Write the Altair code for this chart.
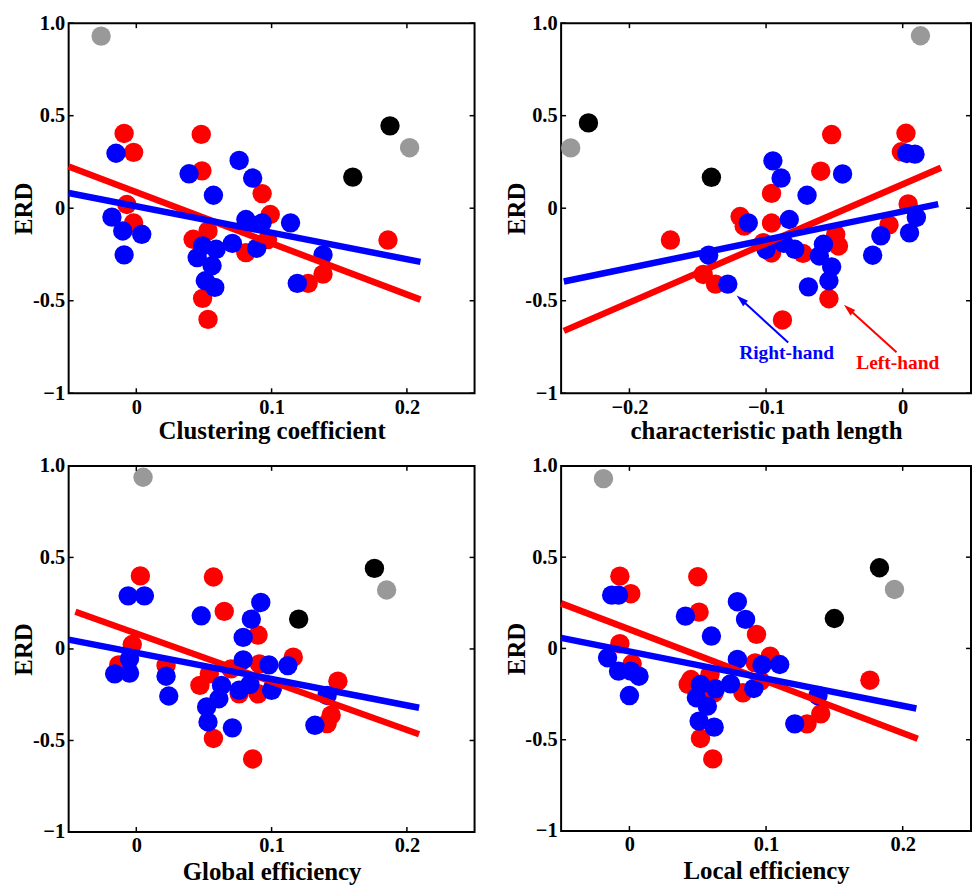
import altair as alt
import pandas as pd

# ---------------- data ----------------
# Panel 1: Clustering coefficient
P1_RED_X = [-0.009, -0.002, 0.048, 0.0485, 0.093, 0.099, -0.007, -0.002, 0.042, 0.053, 0.081, 0.097, 0.186, 0.127, 0.138, 0.049, 0.053]
P1_RED_Y = [0.404, 0.302, 0.399, 0.202, 0.079, -0.034, 0.02, -0.079, -0.168, -0.123, -0.24, -0.17, -0.172, -0.406, -0.356, -0.487, -0.601]
P1_BLUE_X = [-0.015, 0.039, 0.076, 0.086, 0.057, -0.018, -0.01, 0.004, -0.009, 0.081, 0.093, 0.114, 0.071, 0.049, 0.059, 0.045, 0.056, 0.051, 0.058, 0.089, 0.138, 0.119]
P1_BLUE_Y = [0.297, 0.186, 0.258, 0.163, 0.07, -0.048, -0.123, -0.141, -0.252, -0.061, -0.079, -0.079, -0.19, -0.204, -0.222, -0.267, -0.311, -0.392, -0.428, -0.216, -0.252, -0.406]
P1_GRAY_X = [-0.026, 0.202]
P1_GRAY_Y = [0.93, 0.327]
P1_BLACK_X = [0.1875, 0.16]
P1_BLACK_Y = [0.445, 0.168]
P1_RED_FIT_X = [-0.05, 0.21]
P1_RED_FIT_Y = [0.225, -0.494]
P1_BLUE_FIT_X = [-0.05, 0.21]
P1_BLUE_FIT_Y = [0.082, -0.29]

# Panel 2: characteristic path length
P2_RED_X = [-0.052, 0.0024, -0.001, -0.06, -0.096, 0.004, -0.119, -0.116, -0.096, -0.01, -0.17, -0.102, -0.096, -0.073, -0.049, -0.047, -0.146, -0.137, -0.054, -0.088]
P2_RED_Y = [0.398, 0.405, 0.305, 0.2, 0.08, 0.023, -0.045, -0.097, -0.08, -0.09, -0.172, -0.186, -0.242, -0.244, -0.142, -0.204, -0.358, -0.41, -0.489, -0.604]
P2_BLUE_X = [0.003, 0.009, -0.095, -0.089, -0.044, -0.07, -0.113, -0.083, 0.01, -0.016, 0.005, -0.022, -0.1, -0.087, -0.079, -0.058, -0.061, -0.052, -0.054, -0.069, -0.142, -0.128]
P2_BLUE_Y = [0.296, 0.292, 0.256, 0.163, 0.185, 0.07, -0.079, -0.061, -0.05, -0.149, -0.133, -0.254, -0.222, -0.19, -0.222, -0.195, -0.258, -0.317, -0.392, -0.425, -0.254, -0.41]
P2_GRAY_X = [0.013, -0.243]
P2_GRAY_Y = [0.932, 0.326]
P2_BLACK_X = [-0.23, -0.14]
P2_BLACK_Y = [0.461, 0.167]
P2_RED_FIT_X = [-0.248, 0.028]
P2_RED_FIT_Y = [-0.663, 0.219]
P2_BLUE_FIT_X = [-0.248, 0.026]
P2_BLUE_FIT_Y = [-0.396, 0.022]

# Panel 3: Global efficiency
P3_RED_X = [0.003, 0.057, 0.065, 0.09, -0.003, -0.013, 0.022, 0.116, 0.149, 0.047, 0.054, 0.07, 0.076, 0.09, 0.091, 0.101, 0.144, 0.141, 0.057, 0.086]
P3_RED_Y = [0.399, 0.393, 0.205, 0.076, 0.024, -0.087, -0.09, -0.045, -0.176, -0.199, -0.136, -0.109, -0.245, -0.245, -0.082, -0.208, -0.362, -0.408, -0.489, -0.601]
P3_BLUE_X = [-0.006, 0.006, 0.048, 0.092, 0.085, 0.079, -0.005, -0.016, -0.005, 0.022, 0.024, 0.079, 0.098, 0.112, 0.063, 0.076, 0.084, 0.1, 0.061, 0.052, 0.053, 0.071, 0.141, 0.132]
P3_BLUE_Y = [0.29, 0.29, 0.181, 0.254, 0.163, 0.063, -0.054, -0.136, -0.132, -0.149, -0.257, -0.06, -0.087, -0.091, -0.199, -0.226, -0.194, -0.226, -0.272, -0.317, -0.399, -0.431, -0.254, -0.417]
P3_GRAY_X = [0.005, 0.185]
P3_GRAY_Y = [0.938, 0.322]
P3_BLACK_X = [0.176, 0.12]
P3_BLACK_Y = [0.44, 0.163]
P3_RED_FIT_X = [-0.045, 0.209]
P3_RED_FIT_Y = [0.203, -0.466]
P3_BLUE_FIT_X = [-0.05, 0.209]
P3_BLUE_FIT_Y = [0.051, -0.321]

# Panel 4: Local efficiency
P4_RED_X = [-0.007, 0.001, 0.05, 0.051, 0.093, -0.007, 0.002, 0.103, 0.176, 0.045, 0.043, 0.059, 0.062, 0.083, 0.092, 0.096, 0.13, 0.14, 0.052, 0.061]
P4_RED_Y = [0.396, 0.3, 0.393, 0.199, 0.077, 0.026, -0.084, -0.042, -0.174, -0.17, -0.197, -0.142, -0.243, -0.243, -0.079, -0.179, -0.413, -0.358, -0.493, -0.605]
P4_BLUE_X = [-0.013, -0.008, 0.041, 0.079, 0.085, 0.06, -0.016, -0.008, 0.001, 0.007, 0.0, 0.079, 0.097, 0.11, 0.052, 0.063, 0.074, 0.091, 0.049, 0.057, 0.051, 0.062, 0.138, 0.121]
P4_BLUE_Y = [0.292, 0.292, 0.177, 0.256, 0.159, 0.068, -0.051, -0.124, -0.124, -0.152, -0.258, -0.06, -0.091, -0.088, -0.197, -0.221, -0.194, -0.219, -0.27, -0.316, -0.398, -0.431, -0.258, -0.413]
P4_GRAY_X = [-0.019, 0.194]
P4_GRAY_Y = [0.93, 0.323]
P4_BLACK_X = [0.183, 0.15]
P4_BLACK_Y = [0.442, 0.164]
P4_RED_FIT_X = [-0.05, 0.211]
P4_RED_FIT_Y = [0.247, -0.495]
P4_BLUE_FIT_X = [-0.05, 0.21]
P4_BLUE_FIT_Y = [0.058, -0.329]

# Annotations in panel 2
ANNOT_TEXT = ["Right-hand", "Left-hand"]
ANNOT_X = [-0.085, -0.0036]
ANNOT_Y = [-0.78, -0.839]
ARROW_X0 = [-0.0838, -0.0045]
ARROW_Y0 = [-0.726, -0.778]
ARROW_X1 = [-0.118, -0.0395]
ARROW_Y1 = [-0.495, -0.545]

# Axes
X_TICKS_POS = [0, 0.1, 0.2]
X_LABELS_POS = ["0", "0.1", "0.2"]
X_TICKS_NEG = [-0.2, -0.1, 0]
X_LABELS_NEG = ["\u22120.2", "\u22120.1", "0"]
Y_TICKS = [-1, -0.5, 0, 0.5, 1]
Y_LABELS = ["\u22121", "-0.5", "0", "0.5", "1.0"]

RED = "#ff0000"
BLUE = "#0000ff"
GRAY = "#999999"
BLACK = "#000000"
FONT = "Liberation Serif"
ARROW_HEAD = "M0,-1 L0.55,0.85 L-0.55,0.85 Z"


def label_expr(ticks, labels):
    expr = "''"
    for t, l in zip(ticks, labels):
        expr = f"abs(datum.value - ({t})) < 1e-9 ? '{l}' : " + expr
    return expr


def panel(rx, ry, bx, by, gx, gy, kx, ky, rfx, rfy, bfx, bfy,
          xdom, xticks, xlabels, xtitle, W, H, tpad, annot=False):
    xs = alt.Scale(domain=xdom, nice=False, zero=False)
    ys = alt.Scale(domain=[-1, 1], nice=False, zero=False)
    xax = alt.Axis(values=xticks, labelExpr=label_expr(xticks, xlabels),
                   labelPadding=4, titlePadding=tpad, labelFlush=False, labelOverlap=False)
    yax = alt.Axis(values=Y_TICKS, labelExpr=label_expr(Y_TICKS, Y_LABELS),
                   labelPadding=4, titleX=-32, titleY=H / 2, labelOverlap=False, labelFlush=False)
    X = alt.X("x:Q", scale=xs, axis=xax, title=xtitle)
    Yc = alt.Y("y:Q", scale=ys, axis=yax, title="ERD")

    def pts(xv, yv, color):
        return alt.Chart(pd.DataFrame({"x": xv, "y": yv})).mark_circle(
            size=380, opacity=1, color=color).encode(x=X, y=Yc)

    def fit(xv, yv, color):
        return alt.Chart(pd.DataFrame({"x": xv, "y": yv})).mark_line(
            color=color, strokeWidth=6.5, strokeCap="butt").encode(x=X, y=Yc)

    xt = pd.DataFrame({"x": xticks})
    yt = pd.DataFrame({"y": Y_TICKS})
    ticks = [
        alt.Chart(xt).mark_rule(color="black", strokeWidth=1.5).encode(
            x=X, y=alt.value(H), y2=alt.value(H - 5)),
        alt.Chart(xt).mark_rule(color="black", strokeWidth=1.5).encode(
            x=X, y=alt.value(0), y2=alt.value(5)),
        alt.Chart(yt).mark_rule(color="black", strokeWidth=1.5).encode(
            y=Yc, x=alt.value(0), x2=alt.value(5)),
        alt.Chart(yt).mark_rule(color="black", strokeWidth=1.5).encode(
            y=Yc, x=alt.value(W), x2=alt.value(W - 5)),
    ]
    layers = [pts(rx, ry, RED), pts(bx, by, BLUE), pts(gx, gy, GRAY), pts(kx, ky, BLACK),
              fit(rfx, rfy, RED), fit(bfx, bfy, BLUE)] + ticks

    if annot:
        arrows = pd.DataFrame({"x": ARROW_X0, "y": ARROW_Y0, "x2": ARROW_X1, "y2": ARROW_Y1,
                               "c": [BLUE, RED]})
        layers.append(alt.Chart(arrows).mark_rule(strokeWidth=2).encode(
            x=X, y=Yc, x2="x2:Q", y2="y2:Q", color=alt.Color("c:N", scale=None)))
        heads = pd.DataFrame({"x": ARROW_X1, "y": ARROW_Y1, "c": [BLUE, RED]})
        layers.append(alt.Chart(heads).mark_point(shape=ARROW_HEAD, filled=True, size=170,
                                                  angle=312, opacity=1).encode(
            x=X, y=Yc, color=alt.Color("c:N", scale=None)))
        txt = pd.DataFrame({"x": ANNOT_X, "y": ANNOT_Y, "label": ANNOT_TEXT, "c": [BLUE, RED]})
        layers.append(alt.Chart(txt).mark_text(font=FONT, fontWeight="bold", fontSize=19.5,
                                               align="center", baseline="middle").encode(
            x=X, y=Yc, text="label:N", color=alt.Color("c:N", scale=None)))

    return alt.layer(*layers).properties(width=W, height=H)


p1 = panel(P1_RED_X, P1_RED_Y, P1_BLUE_X, P1_BLUE_Y, P1_GRAY_X, P1_GRAY_Y, P1_BLACK_X, P1_BLACK_Y,
           P1_RED_FIT_X, P1_RED_FIT_Y, P1_BLUE_FIT_X, P1_BLUE_FIT_Y,
           [-0.05, 0.25], X_TICKS_POS, X_LABELS_POS, "Clustering coefficient", 408, 372, 1)
p2 = panel(P2_RED_X, P2_RED_Y, P2_BLUE_X, P2_BLUE_Y, P2_GRAY_X, P2_GRAY_Y, P2_BLACK_X, P2_BLACK_Y,
           P2_RED_FIT_X, P2_RED_FIT_Y, P2_BLUE_FIT_X, P2_BLUE_FIT_Y,
           [-0.25, 0.05], X_TICKS_NEG, X_LABELS_NEG, "characteristic path length", 412, 372, 1, annot=True)
p3 = panel(P3_RED_X, P3_RED_Y, P3_BLUE_X, P3_BLUE_Y, P3_GRAY_X, P3_GRAY_Y, P3_BLACK_X, P3_BLACK_Y,
           P3_RED_FIT_X, P3_RED_FIT_Y, P3_BLUE_FIT_X, P3_BLUE_FIT_Y,
           [-0.05, 0.25], X_TICKS_POS, X_LABELS_POS, "Global efficiency", 408, 368, 3)
p4 = panel(P4_RED_X, P4_RED_Y, P4_BLUE_X, P4_BLUE_Y, P4_GRAY_X, P4_GRAY_Y, P4_BLACK_X, P4_BLACK_Y,
           P4_RED_FIT_X, P4_RED_FIT_Y, P4_BLUE_FIT_X, P4_BLUE_FIT_Y,
           [-0.05, 0.25], X_TICKS_POS, X_LABELS_POS, "Local efficiency", 412, 367, 3)

chart = alt.vconcat(
    alt.hconcat(p1, p2, spacing=27),
    alt.hconcat(p3, p4, spacing=27),
    spacing=10,
).properties(
    padding={"left": 11, "top": 10, "right": 0, "bottom": 0},
    background="white",
).configure_view(
    stroke="black", strokeWidth=2
).configure_axis(
    grid=False, domain=False, ticks=False,
    labelFont=FONT, labelFontWeight="bold", labelFontSize=20.5, labelColor="black",
    titleFont=FONT, titleFontWeight="bold", titleFontSize=25, titleColor="black"
)

chart.save("out.html", embed_options={"renderer": "svg", "actions": False})
